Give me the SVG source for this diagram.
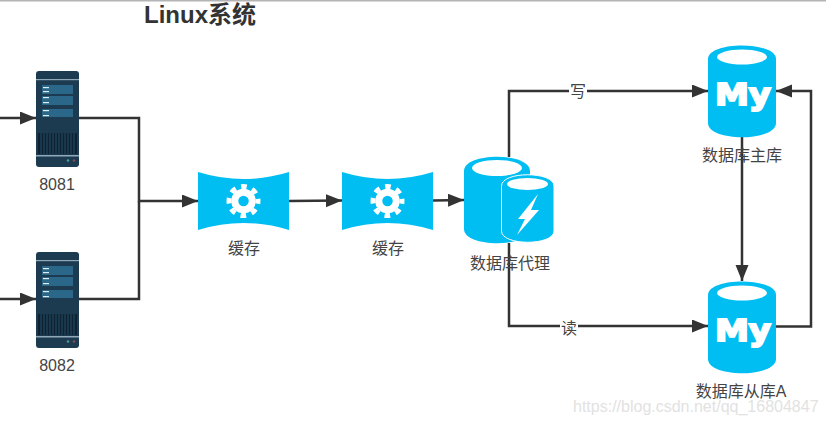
<svg xmlns="http://www.w3.org/2000/svg" xmlns:xlink="http://www.w3.org/1999/xlink" width="826" height="425" viewBox="0 0 826 425">
<style>
text{font-family:"Liberation Sans","Noto Sans CJK SC",sans-serif}
.lb{font-size:16px;fill:#444;text-anchor:middle}
.c{fill:none;stroke:#333;stroke-width:2.5}
.b{fill:#00bef2}
.w{fill:#fff}
.my{font-size:31px;font-weight:bold;fill:#fff;stroke:#fff;stroke-width:2;font-family:"DejaVu Sans",sans-serif}
</style>
<defs>
<marker id="a" markerUnits="userSpaceOnUse" markerWidth="17" markerHeight="14" refX="16" refY="6.5" orient="auto"><path d="M0 0L16 6.5L0 13Z" fill="#333"/></marker>
<g id="srv">
<rect x="0" y="0" width="43" height="96" rx="3" fill="#1c3a50"/>
<rect x="0" y="8" width="43" height="1.2" fill="#8fa9b8"/>
<rect x="6" y="14" width="31" height="9" fill="#2b6788"/>
<rect x="6" y="25" width="31" height="9" fill="#2b6788"/>
<rect x="6" y="38" width="31" height="8" fill="#2b6788"/>
<rect x="7" y="16" width="6" height="1.2" fill="#dfeef5"/><rect x="7" y="20" width="6" height="1.2" fill="#dfeef5"/>
<rect x="7" y="26" width="6" height="1.2" fill="#dfeef5"/><rect x="7" y="31" width="6" height="1.2" fill="#dfeef5"/>
<rect x="7" y="39" width="6" height="1.2" fill="#dfeef5"/><rect x="7" y="44" width="6" height="1.2" fill="#dfeef5"/>
<rect x="2" y="62" width="39" height="21" fill="#0e2233"/>
<path d="M5 62v21M8 62v21M11 62v21M14 62v21M17 62v21M20 62v21M23 62v21M26 62v21M29 62v21M32 62v21M35 62v21M38 62v21" stroke="#2f5a74" stroke-width=".8"/>
<rect x="0" y="84" width="43" height="1.5" fill="#8fa9b8"/>
<circle cx="32" cy="89.500" r="1.300" fill="#4f9a96"/><circle cx="38" cy="89.500" r="1.300" fill="#8a4a55"/>
</g>
<g id="gear">
<circle r="8.750" fill="none" stroke="#fff" stroke-width="7"/>
<circle r="14.500" fill="none" stroke="#fff" stroke-width="5" stroke-dasharray="5.700 5.690" stroke-dashoffset="2.850"/>
</g>
<g id="cache">
<path d="M0 0Q45.500 14 91 0V58Q45.500 44 0 58Z" class="b"/>
<use xlink:href="#gear" href="#gear" x="45.500" y="29"/>
</g>
<g id="mydb">
<path d="M0 14C0 -4 68 -4 68 14V78C68 97 0 97 0 78Z" class="b"/>
<ellipse cx="34" cy="12" rx="25" ry="7.500" class="w"/>
<text x="7" y="60" class="my" textLength="56" lengthAdjust="spacingAndGlyphs">My</text>
</g>
</defs>
<rect width="826" height="425" fill="#fff"/>
<rect x="0" y="0" width="826" height="1.500" fill="#b4b4b4"/>
<text x="144" y="23" font-size="24" font-weight="bold" fill="#333">Linux系统</text>
<g id="connectors">
<path class="c" marker-end="url(#a)" d="M0 118H36"/>
<path class="c" marker-end="url(#a)" d="M0 299H36"/>
<path class="c" marker-end="url(#a)" d="M79 118H139V201H198"/>
<path class="c" d="M79 299H139V201"/>
<path class="c" marker-end="url(#a)" d="M289 201L342 200.500"/>
<path class="c" marker-end="url(#a)" d="M433 200.500L464 200"/>
<path class="c" marker-end="url(#a)" d="M509 157V91H708"/>
<path class="c" marker-end="url(#a)" d="M509 243V326H708"/>
<path class="c" marker-end="url(#a)" d="M742 137V281"/>
<path class="c" marker-end="url(#a)" d="M776 326.500H811V91H776"/>
<rect x="569" y="83" width="18" height="18" fill="#fff"/>
<text x="578" y="97" class="lb">写</text>
<rect x="560" y="320" width="18" height="18" fill="#fff"/>
<text x="569" y="334" class="lb">读</text>
</g>
<g id="server-8081"><use xlink:href="#srv" href="#srv" x="36" y="71"/><text x="57" y="190" class="lb">8081</text></g>
<g id="server-8082"><use xlink:href="#srv" href="#srv" x="36" y="252"/><text x="57" y="371" class="lb">8082</text></g>
<g id="cache-1"><use xlink:href="#cache" href="#cache" x="198" y="172"/><text x="244" y="254" class="lb">缓存</text></g>
<g id="cache-2"><use xlink:href="#cache" href="#cache" x="342" y="172"/><text x="388" y="254" class="lb">缓存</text></g>
<g id="db-proxy">
<path d="M464 171C464 152 530 152 530 171V229C530 248 464 248 464 229Z" class="b"/>
<ellipse cx="497" cy="168" rx="25" ry="8" class="w"/>
<path d="M501.500 186C501.500 171 554 171 554 186V231C554 246 501.500 246 501.500 231Z" class="b" stroke="#fff" stroke-width="1"/>
<ellipse cx="527.500" cy="184" rx="20.500" ry="6" class="w"/>
<path d="M538 194L518 219L525 219L517 235L539 210L531 210Z" class="w"/>
<text x="510" y="269" class="lb">数据库代理</text>
</g>
<g id="db-master"><use xlink:href="#mydb" href="#mydb" x="708" y="45"/><text x="742" y="161" class="lb">数据库主库</text></g>
<g id="db-slave"><use xlink:href="#mydb" href="#mydb" x="708" y="281"/><text x="741" y="397" class="lb">数据库从库A</text></g>
<text x="573" y="412" font-size="16" fill="#e2e2e2">https://blog.csdn.net/qq_16804847</text>
</svg>
